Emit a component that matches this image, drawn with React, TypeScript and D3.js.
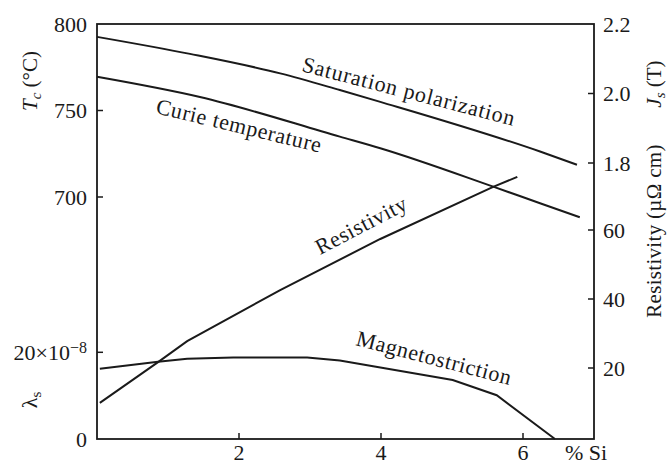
import React from "react";
import * as d3 from "d3";

// % Si values and series
const curieX = [0, 1.45, 3.42, 3.99, 5.58, 6.24, 6.8];
const curieT = [769.5, 757.8, 734.9, 728.2, 706.0, 696.4, 688.3];

const satX = [0, 1.31, 2.58, 3.42, 3.99, 6.24, 6.76];
const satJ = [2.163, 2.114, 2.058, 2.01, 1.976, 1.833, 1.795];

const resX = [0.04, 0.86, 1.27, 2.58, 3.99, 5.58, 5.92];
const resRho = [9.9, 21.7, 27.8, 42.6, 57.4, 72.5, 75.4];

const magX = [0.04, 0.86, 1.27, 1.92, 2.96, 3.42, 5.01, 5.63, 6.45];
const magL = [16.2, 17.8, 18.5, 18.8, 18.8, 18.1, 13.6, 10.1, 0];

const xTicks = [2, 4, 6];
const tTicks = [750, 700];
const tLabels = [800, 750, 700];
const lTicks = [20];
const jTicks = [2.0, 1.8];
const jLabels = ["2.2", "2.0", "1.8"];
const jLabelVals = [2.2, 2.0, 1.8];
const rTicks = [60, 40, 20];

const W = 667;
const H = 467;
const FONT = "'Liberation Serif', 'Times New Roman', serif";
const INK = "#1a1a1a";

export default function App() {
  const left = 97, right = 594, top = 24, bottom = 439;
  const x = d3.scaleLinear().domain([0, 7]).range([left, right]);
  const yT = d3.scaleLinear().domain([700, 800]).range([197, top]);
  const yL = d3.scaleLinear().domain([0, 20]).range([bottom, 352.3]);
  const yJ = d3.scaleLinear().domain([1.8, 2.2]).range([163, top]);
  const yR = d3.scaleLinear().domain([20, 60]).range([368, 230]);

  const mk = (xs: number[], ys: number[], ys2: (v: number) => number, curve: any) =>
    d3
      .line<number>()
      .x((_, i) => x(xs[i]))
      .y((v) => ys2(v))
      .curve(curve)(ys) || "";

  const curiePath = mk(curieX, curieT, yT, d3.curveMonotoneX);
  const satPath = mk(satX, satJ, yJ, d3.curveMonotoneX);
  const resPath = mk(resX, resRho, yR, d3.curveLinear);
  const magPath = mk(magX, magL, yL, d3.curveLinear);

  const fs = 22;
  const tick = 6;

  return (
    <svg width={W} height={H} style={{ position: "absolute", left: 0, top: 0, background: "#fff" }} fontFamily={FONT}>
      <rect x={0} y={0} width={W} height={H} fill="#fff" />
      {/* frame */}
      <rect x={left} y={top} width={right - left} height={bottom - top} fill="none" stroke={INK} strokeWidth={1.8} />

      {/* bottom ticks */}
      {xTicks.map((t) => (
        <g key={"x" + t}>
          <line x1={x(t)} x2={x(t)} y1={bottom} y2={bottom - tick} stroke={INK} strokeWidth={1.5} />
          <text x={x(t)} y={460} textAnchor="middle" fontSize={fs} fill={INK}>{t}</text>
        </g>
      ))}
      <text x={565} y={460} fontSize={fs} fill={INK}>% Si</text>

      {/* left ticks */}
      {tTicks.map((t) => (
        <line key={"t" + t} x1={left} x2={left + tick} y1={yT(t)} y2={yT(t)} stroke={INK} strokeWidth={1.5} />
      ))}
      {tLabels.map((t) => (
        <text key={"tl" + t} x={87} y={yT(t) + 7.5} textAnchor="end" fontSize={fs} fill={INK}>{t}</text>
      ))}
      {lTicks.map((t) => (
        <g key={"l" + t}>
          <line x1={left} x2={left + tick} y1={yL(t)} y2={yL(t)} stroke={INK} strokeWidth={1.5} />
          <text x={87} y={yL(t) + 7.5} textAnchor="end" fontSize={fs} fill={INK}>
            20×10<tspan dy={-7} fontSize={16}>−8</tspan>
          </text>
        </g>
      ))}
      <text x={87} y={yL(0) + 7.5} textAnchor="end" fontSize={fs} fill={INK}>0</text>

      {/* right ticks */}
      {jTicks.map((t) => (
        <line key={"j" + t} x1={right} x2={right - tick} y1={yJ(t)} y2={yJ(t)} stroke={INK} strokeWidth={1.5} />
      ))}
      {jLabelVals.map((t, i) => (
        <text key={"jl" + t} x={603} y={yJ(t) + 7.5} fontSize={fs} fill={INK}>{jLabels[i]}</text>
      ))}
      {rTicks.map((t) => (
        <g key={"r" + t}>
          <line x1={right} x2={right - tick} y1={yR(t)} y2={yR(t)} stroke={INK} strokeWidth={1.5} />
          <text x={603} y={yR(t) + 7.5} fontSize={fs} fill={INK}>{t}</text>
        </g>
      ))}

      {/* axis titles */}
      <text transform="translate(37,81) rotate(-90)" textAnchor="middle" fontSize={21} fill={INK}>
        <tspan fontStyle="italic">T</tspan>
        <tspan fontStyle="italic" fontSize={15} dy={4}>c</tspan>
        <tspan dy={-4}> (°C)</tspan>
      </text>
      <text transform="translate(37,400) rotate(-90)" textAnchor="middle" fontSize={22} fill={INK}>
        λ<tspan fontSize={15} dy={4}>s</tspan>
      </text>
      <text transform="translate(661,84) rotate(-90)" textAnchor="middle" fontSize={21} fill={INK}>
        <tspan fontStyle="italic">J</tspan>
        <tspan fontStyle="italic" fontSize={15} dy={4}>s</tspan>
        <tspan dy={-4}> (T)</tspan>
      </text>
      <text transform="translate(661,231) rotate(-90)" textAnchor="middle" fontSize={21} fill={INK} letterSpacing={0.3}>
        Resistivity (µΩ cm)
      </text>

      {/* curves */}
      <path d={satPath} fill="none" stroke={INK} strokeWidth={2} />
      <path d={curiePath} fill="none" stroke={INK} strokeWidth={2} />
      <path d={resPath} fill="none" stroke={INK} strokeWidth={2} />
      <path d={magPath} fill="none" stroke={INK} strokeWidth={2} />

      {/* curve labels */}
      <text transform="translate(301,71) rotate(14.5)" fontSize={22} fill={INK} letterSpacing={0.8}>
        Saturation polarization
      </text>
      <text transform="translate(155,113) rotate(13.5)" fontSize={22} fill={INK} letterSpacing={0.6}>
        Curie temperature
      </text>
      <text transform="translate(320,255) rotate(-27.5)" fontSize={22} fill={INK} letterSpacing={0.6}>
        Resistivity
      </text>
      <text transform="translate(355,345) rotate(14.5)" fontSize={22} fill={INK} letterSpacing={0.6}>
        Magnetostriction
      </text>
    </svg>
  );
}
